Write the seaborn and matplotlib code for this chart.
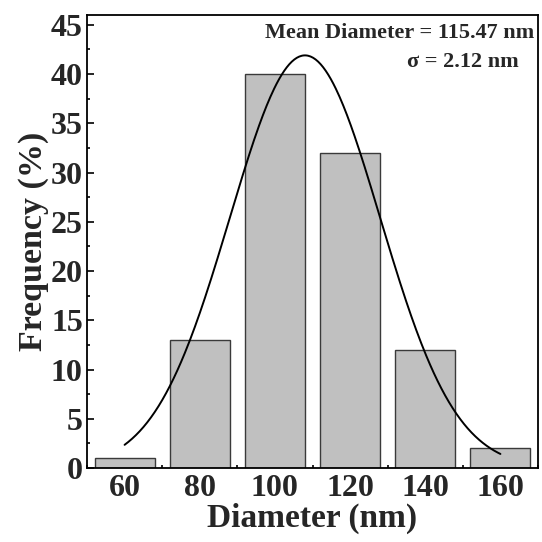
import numpy as np
import pandas as pd
import matplotlib
matplotlib.use("Agg")
import matplotlib.pyplot as plt
import seaborn as sns
from matplotlib.ticker import MultipleLocator

# Data
diameters = [60, 80, 100, 120, 140, 160]
frequency = [1, 13, 40, 32, 12, 2]
xticks = [60, 80, 100, 120, 140, 160]
yticks = [0, 5, 10, 15, 20, 25, 30, 35, 40, 45]
# Gaussian fit parameters
fit_amp = 41.9
fit_mu = 108.0
fit_sigma = 20.0
fit_range = (60, 160)

sns.set_theme(style="ticks")
plt.rcParams["font.family"] = ["Liberation Serif", "DejaVu Serif"]
plt.rcParams["font.weight"] = "bold"
plt.rcParams["mathtext.default"] = "regular"

fig = plt.figure(figsize=(5.42, 5.42), dpi=100)
ax = fig.add_axes([87 / 542, 1 - 468 / 542, 451 / 542, 453 / 542])

df = pd.DataFrame({"Diameter": diameters, "Frequency": frequency})
sns.barplot(data=df, x="Diameter", y="Frequency", native_scale=True, width=0.8,
            color="#c0c0c0", saturation=1, edgecolor="#3a3a3a", linewidth=1.0, ax=ax)

xs = np.linspace(fit_range[0], fit_range[1], 300)
ys = fit_amp * np.exp(-(xs - fit_mu) ** 2 / (2 * fit_sigma ** 2))
sns.lineplot(x=xs, y=ys, color="black", linewidth=1.4, ax=ax)

ax.set_xlim(50, 170)
ax.set_ylim(0, 46)
ax.set_xticks(xticks)
ax.set_yticks(yticks)
ax.xaxis.set_minor_locator(MultipleLocator(10))
ax.yaxis.set_minor_locator(MultipleLocator(2.5))
ax.tick_params(which="both", direction="in", top=False, right=False, width=1.2, color="black")
ax.tick_params(which="major", length=5)
ax.tick_params(which="minor", length=2.5)
ax.tick_params(axis="x", which="major", labelsize=23, pad=4)
ax.tick_params(axis="y", which="major", labelsize=23, pad=3)
for lab in ax.get_xticklabels() + ax.get_yticklabels():
    lab.set_fontweight("bold")
for s in ax.spines.values():
    s.set_linewidth(1.3)
    s.set_color("black")

ax.set_xlabel("Diameter (nm)", fontsize=24, fontweight="bold", labelpad=0)
ax.set_ylabel("Frequency (%)", fontsize=24.5, fontweight="bold", labelpad=1)

ax.text(0.991, 0.960, "Mean Diameter = 115.47 nm", transform=ax.transAxes,
        ha="right", va="center", fontsize=16, fontweight="bold")
ax.text(0.958, 0.896, "σ = 2.12 nm", transform=ax.transAxes,
        ha="right", va="center", fontsize=16, fontweight="bold")

fig.savefig("out.png", dpi=100)
